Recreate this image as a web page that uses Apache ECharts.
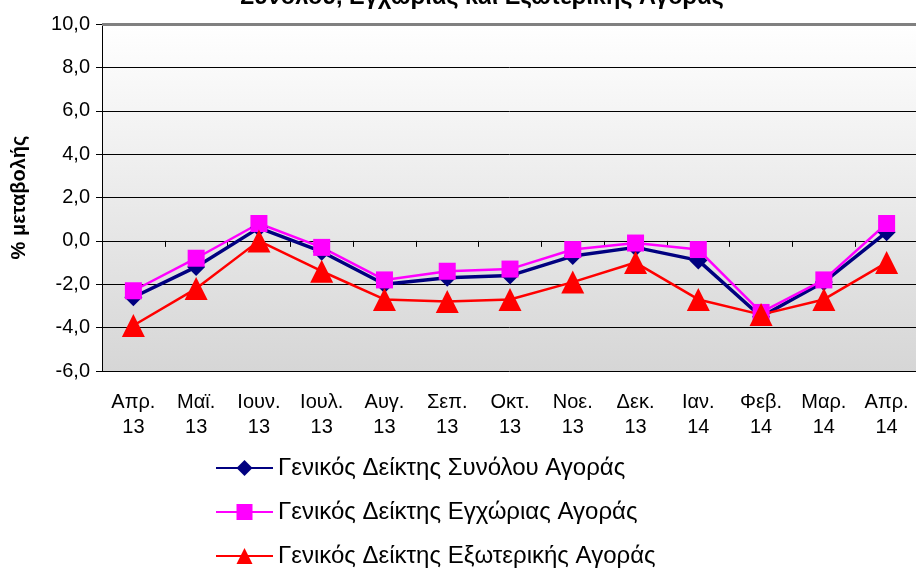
<!DOCTYPE html>
<html>
<head>
<meta charset="utf-8">
<script src="https://cdn.jsdelivr.net/npm/echarts@6/dist/echarts.min.js"></script>
<style>
html,body{margin:0;padding:0;background:#fff;}
#chart{width:916px;height:568px;}
</style>
</head>
<body>
<div id="chart"></div>
<script>
var titleText = 'Συνόλου, Εγχώριας και Εξωτερικής Αγοράς';
var yAxisName = '% μεταβολής';
var categories = ['Απρ.\n13','Μαϊ.\n13','Ιουν.\n13','Ιουλ.\n13','Αυγ.\n13','Σεπ.\n13','Οκτ.\n13','Νοε.\n13','Δεκ.\n13','Ιαν.\n14','Φεβ.\n14','Μαρ.\n14','Απρ.\n14'];
var seriesNames = ['Γενικός Δείκτης Συνόλου Αγοράς','Γενικός Δείκτης Εγχώριας Αγοράς','Γενικός Δείκτης Εξωτερικής Αγοράς'];
var totalMarket = [-2.6,-1.2,0.6,-0.5,-2.0,-1.7,-1.6,-0.7,-0.3,-0.9,-3.5,-1.9,0.4];
var domesticMarket = [-2.3,-0.8,0.8,-0.3,-1.8,-1.4,-1.3,-0.4,-0.1,-0.4,-3.3,-1.8,0.8];
var foreignMarket = [-3.9,-2.2,0.0,-1.4,-2.7,-2.8,-2.7,-1.9,-1.0,-2.7,-3.4,-2.7,-1.0];
var yMin = -6, yMax = 10, yStep = 2;

var FONT = '"Liberation Sans", Arial, sans-serif';
var chart = echarts.init(document.getElementById('chart'), null, {renderer:'canvas'});
chart.setOption({
  animation:false,
  backgroundColor:'#ffffff',
  title:{
    text:titleText,
    left:240,
    top:-14,
    padding:0,
    textStyle:{fontFamily:FONT,fontSize:23.5,fontWeight:'bold',color:'#000',lineHeight:23}
  },
  grid:{
    left:102, top:24, width:816, height:347,
    outerBoundsMode:'none',
    containLabel:false,
    show:true, borderWidth:0,
    backgroundColor:new echarts.graphic.LinearGradient(0,0,0,1,[
      {offset:0,color:'#ffffff'},{offset:1,color:'#d6d6d6'}
    ])
  },
  legend:{
    orient:'vertical',
    left:215, top:456,
    padding:0,
    itemWidth:57, itemHeight:20, itemGap:20,
    textStyle:{fontFamily:FONT,fontSize:24,color:'#000',lineHeight:24},
    data:seriesNames
  },
  xAxis:{
    type:'category',
    data:categories,
    boundaryGap:true,
    axisLine:{lineStyle:{color:'#000',width:1}},
    axisTick:{show:true,length:6,lineStyle:{color:'#000'}},
    axisLabel:{fontFamily:FONT,fontSize:20,color:'#000',lineHeight:25,margin:19,interval:0},
    splitLine:{show:false}
  },
  yAxis:{
    type:'value',
    min:yMin,max:yMax,interval:yStep,
    name:yAxisName,
    nameLocation:'middle',
    nameRotate:90,
    nameGap:73,
    nameTextStyle:{fontFamily:FONT,fontSize:20,fontWeight:'bold',color:'#000'},
    axisLine:{show:true,lineStyle:{color:'#000',width:1}},
    axisTick:{show:true,length:6,lineStyle:{color:'#000'}},
    axisLabel:{fontFamily:FONT,fontSize:20,color:'#000',margin:12,
      formatter:function(v){return v.toFixed(1).replace('.',',');}},
    splitLine:{show:true,lineStyle:{color:'#000',width:1}}
  },
  series:[
    {name:seriesNames[0],type:'line',data:totalMarket,
     symbol:'diamond',symbolSize:18,showAllSymbol:true,
     lineStyle:{color:'#000080',width:3.5},itemStyle:{color:'#000080'},
     markLine:{silent:true,symbol:'none',label:{show:false},
       lineStyle:{color:'#808080',width:3,type:'solid'},data:[{yAxis:yMax}]}},
    {name:seriesNames[1],type:'line',data:domesticMarket,
     symbol:'rect',symbolSize:17,showAllSymbol:true,
     lineStyle:{color:'#ff00ff',width:2.5},itemStyle:{color:'#ff00ff'}},
    {name:seriesNames[2],type:'line',data:foreignMarket,
     symbol:'triangle',symbolSize:23,showAllSymbol:true,
     lineStyle:{color:'#ff0000',width:2.5},itemStyle:{color:'#ff0000'}}
  ]
});
</script>
</body>
</html>
